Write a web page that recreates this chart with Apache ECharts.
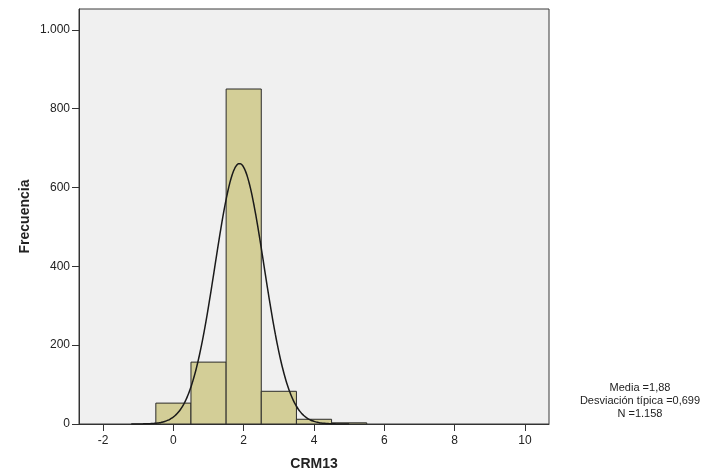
<!DOCTYPE html>
<html>
<head>
<meta charset="utf-8">
<script src="https://cdn.jsdelivr.net/npm/echarts@6/dist/echarts.min.js"></script>
<style>
  html, body { margin: 0; padding: 0; background: #fff; }
  #chart { width: 722px; height: 476px; }
</style>
</head>
<body>
<div id="chart"></div>
<script>
// Histogram of CRM13: bins of width 1 centred on the integer scores
const binCenters = [0, 1, 2, 3, 4, 5];
const binCounts = [53, 157, 850, 83, 12, 3];
const binWidth = 1;

// Summary statistics shown beside the plot
const statMean = 1.88;
const statSd = 0.699;
const statN = 1158;

const xTicks = [-2, 0, 2, 4, 6, 8, 10];
const yTicks = [0, 200, 400, 600, 800, 1000];

// Expected counts of a normal distribution with the reported mean / sd / N
const curveX = [];
for (let x = -1.2; x <= 5.0001; x += 0.05) curveX.push(+x.toFixed(2));
const curve = curveX.map(x => {
  const z = (x - statMean) / statSd;
  return [x, statN * binWidth * Math.exp(-0.5 * z * z) / (statSd * Math.sqrt(2 * Math.PI))];
});

const bars = binCenters.map((c, i) => [c - binWidth / 2, c + binWidth / 2, binCounts[i]]);

const fmtThousands = v => String(v).replace(/\B(?=(\d{3})+(?!\d))/g, '.');
const fmtDecimal = v => String(v).replace('.', ',');

const font = 'Arial, "Liberation Sans", sans-serif';
const chart = echarts.init(document.getElementById('chart'), null, { renderer: 'canvas' });

chart.setOption({
  backgroundColor: '#ffffff',
  animation: false,
  grid: {
    left: 79, top: 9, width: 470, height: 416,
    show: true, backgroundColor: '#f0f0f0', borderColor: '#3a3a3a', borderWidth: 1
  },
  xAxis: {
    type: 'value',
    min: -2.686, max: 10.686,
    name: 'CRM13', nameLocation: 'middle', nameGap: 33, nameMoveOverlap: false,
    nameTextStyle: { fontFamily: font, fontSize: 14, fontWeight: 'bold', color: '#222' },
    axisLine: { show: true, onZero: false, lineStyle: { color: '#333', width: 1 } },
    axisTick: { show: true, length: 7, customValues: xTicks, lineStyle: { color: '#333', width: 1 } },
    axisLabel: { customValues: xTicks, margin: 11, fontFamily: font, fontSize: 12, color: '#222' },
    splitLine: { show: false }
  },
  yAxis: {
    type: 'value',
    min: 0, max: 1053,
    name: 'Frecuencia', nameLocation: 'middle', nameGap: 47, nameRotate: 90, nameMoveOverlap: false,
    nameTextStyle: { fontFamily: font, fontSize: 14, fontWeight: 'bold', color: '#222' },
    axisLine: { show: true, onZero: false, lineStyle: { color: '#333', width: 1 } },
    axisTick: { show: true, length: 7, customValues: yTicks, lineStyle: { color: '#333', width: 1 } },
    axisLabel: { customValues: yTicks, margin: 9, fontFamily: font, fontSize: 12, color: '#222',
                 formatter: v => fmtThousands(v) },
    splitLine: { show: false }
  },
  series: [
    {
      type: 'custom',
      data: bars,
      renderItem: (params, api) => {
        const p0 = api.coord([api.value(0), api.value(2)]);
        const p1 = api.coord([api.value(1), 0]);
        return {
          type: 'rect',
          shape: { x: p0[0], y: p0[1], width: p1[0] - p0[0], height: p1[1] - p0[1] },
          style: { fill: '#d3ce97', stroke: '#2b2b2b', lineWidth: 1 }
        };
      },
      encode: { x: [0, 1], y: 2 },
      z: 2
    },
    {
      type: 'line',
      data: curve,
      showSymbol: false,
      smooth: true,
      lineStyle: { color: '#1a1a1a', width: 1.5 },
      z: 3
    }
  ],
  graphic: [
    {
      type: 'text', x: 640, y: 381,
      style: {
        text: 'Media =' + fmtDecimal(statMean) + '\nDesviación típica =' + fmtDecimal(statSd) + '\nN =' + fmtThousands(statN),
        font: '11px ' + font, fill: '#222', align: 'center', verticalAlign: 'top', lineHeight: 13
      }
    }
  ]
});
</script>
</body>
</html>
